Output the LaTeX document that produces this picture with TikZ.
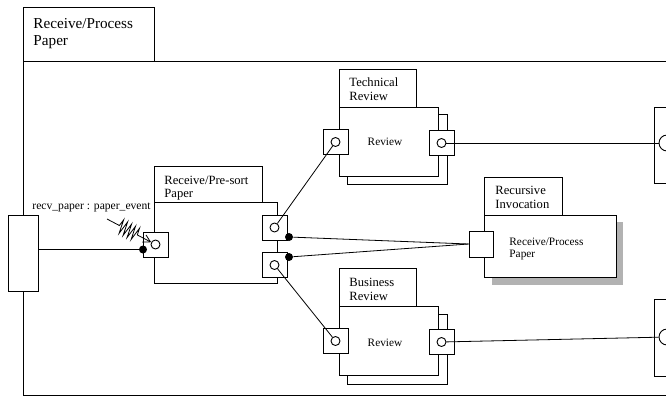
\documentclass[tikz,border=0pt]{standalone}
\usepackage{fontspec}
\setmainfont{Liberation Serif}
\usetikzlibrary{arrows.meta,decorations.pathmorphing,calc}
\begin{document}
\begin{tikzpicture}[x=1pt,y=-1pt, line width=0.9pt,
 box/.style={draw, fill=white},
 port/.style={draw, fill=white, minimum size=25pt, inner sep=0pt},
 hole/.style={circle, draw, fill=white, minimum size=9pt, inner sep=0pt},
 bighole/.style={circle, draw, fill=white, minimum size=16pt, inner sep=0pt},
 blackdot/.style={circle, fill=black, minimum size=8pt, inner sep=0pt},
 ftitle/.style={font=\fontsize{15.2}{17}\selectfont, anchor=base west, inner sep=0pt},
 ttitle/.style={font=\fontsize{12.6}{14}\selectfont, anchor=base west, inner sep=0pt},
 itext/.style={font=\fontsize{11.3}{13}\selectfont, anchor=base west, inner sep=0pt},
 conn/.style={draw, line width=0.8pt}]
\clip (0,0) rectangle (666,397);

% outer frame
\draw[box] (23,7) rectangle (154,61);
\node[ftitle] (ttlA) at (33,28) {Receive/Process};
\node[ftitle] (ttlB) at (33,45) {Paper};
\draw (690,61) -- (23,61) -- (23,395) -- (690,395);

% external left element
\node[box, minimum width=30pt, minimum height=76pt, inner sep=0pt] (ext) at (23,253) {};
\node[itext, font=\fontsize{11.6}{13}\selectfont] (sig) at (32,209) {recv\_paper : paper\_event};

% Receive/Pre-sort Paper
\draw[box] (154,166) rectangle (262,202);
\draw[box] (154,202) rectangle (277,283);
\node[ttitle] (psA) at (164,184.5) {Receive/Pre-sort};
\node[ttitle] (psB) at (164,197.5) {Paper};
\node[port] (pl) at (155.5,244.5) {};
\node[hole] (plc) at (pl.center) {};
\node[port] (pu) at (274.5,227.5) {};
\node[hole] (puc) at (pu.center) {};
\node[port] (pd) at (274.5,265) {};
\node[hole] (pdc) at (pd.center) {};

% Recursive Invocation
\fill[gray!60] (492,222) rectangle (623,285);
\draw[box] (484,177) rectangle (562,215);
\draw[box] (484,215) rectangle (616,277);
\node[ttitle] (riA) at (495,194.5) {Recursive};
\node[ttitle] (riB) at (495,208.5) {Invocation};
\node[itext] (rbA) at (509,245) {Receive/Process};
\node[itext] (rbB) at (509,257.5) {Paper};
\node[port, minimum width=24pt, minimum height=26pt] (rp) at (481,244) {};

% Technical Review
\draw[box] (347,114) rectangle (447,184);
\draw[box] (339,69) rectangle (416,107);
\draw[box] (339,107) rectangle (438,176);
\node[ttitle] (trA) at (349,86.5) {Technical};
\node[ttitle] (trB) at (349,100.5) {Review};
\node[itext, anchor=base] (trR) at (385,145) {Review};
\node[port] (tl) at (335.5,142) {};
\node[hole] (tlc) at (tl.center) {};
\node[port] (tr) at (441.5,143) {};
\node[hole] (trc) at (tr.center) {};

% Business Review
\draw[box] (347,314) rectangle (447,384);
\draw[box] (339,268) rectangle (416,306);
\draw[box] (339,306) rectangle (438,375);
\node[ttitle] (brA) at (349,286.5) {Business};
\node[ttitle] (brB) at (349,300.5) {Review};
\node[itext, anchor=base] (brR) at (385,346) {Review};
\node[port] (bl) at (335.5,341) {};
\node[hole] (blc) at (bl.center) {};
\node[port] (br) at (441.5,342) {};
\node[hole] (brc) at (br.center) {};

% right external elements
\node[box, minimum width=26pt, minimum height=76pt, inner sep=0pt, anchor=north west] (xa) at (654,107) {};
\node[bighole] (xac) at (667,143) {};
\node[box, minimum width=26pt, minimum height=77pt, inner sep=0pt, anchor=north west] (xb) at (654,299) {};
\node[bighole] (xbc) at (667,337) {};

% dots
\node[blackdot] (d0) at (143,249.5) {};
\node[blackdot] (d1) at (289,237) {};
\node[blackdot] (d2) at (289,257) {};

% connectors
\draw[conn] (ext.east |- d0) -- (d0);
\draw[conn] (puc) -- (tlc);
\draw[conn] (pdc) -- (blc);
\draw[conn] (d1) -- (rp.west);
\draw[conn] (d2) -- (rp.west);
\draw[conn] (trc) -- (xac);
\draw[conn] (brc) -- (xbc);
\coordinate (sigs) at (107,219);
\draw[conn, -{Straight Barb[length=7pt,width=8pt]},
  decoration={zigzag, segment length=4.5pt, amplitude=7pt, pre length=14pt, post length=15pt},
  decorate] (sigs) -- (plc);
\end{tikzpicture}
\end{document}
